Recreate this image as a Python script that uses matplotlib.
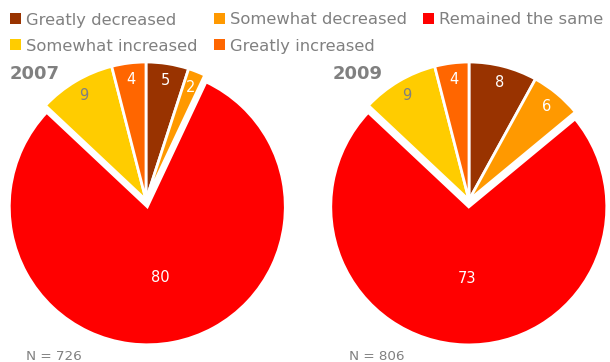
import numpy as np
import matplotlib.pyplot as plt
from matplotlib.patches import Patch

categories = ["Greatly decreased", "Somewhat decreased", "Remained the same",
              "Somewhat increased", "Greatly increased"]
colors = ["#993300", "#FF9900", "#FF0000", "#FFCC00", "#FF6600"]
label_colors = ["white", "white", "white", "#808080", "white"]
values_2007 = [5, 2, 80, 9, 4]
values_2009 = [8, 6, 73, 9, 4]
years = ["2007", "2009"]
n_counts = [726, 806]

fig = plt.figure(figsize=(6.1, 3.62), dpi=100)
W, H = 610, 362
gray = "#808080"


def draw_pie(cx, cy, values, year, n):
    size = 300
    ax = fig.add_axes([(cx - size / 2) / W, (H - cy - size / 2) / H, size / W, size / H])
    lim = size / 2 / 138
    explode = [0.05 if v == max(values) else 0 for v in values]
    wedges, _ = ax.pie(values, colors=colors, startangle=90, counterclock=False,
                       explode=explode,
                       wedgeprops=dict(edgecolor="white", linewidth=2))
    for w, v, lc in zip(wedges, values, label_colors):
        mid = np.deg2rad((w.theta1 + w.theta2) / 2)
        d = 0.52 if v == max(values) else 0.88
        x0, y0 = w.center
        ax.text(x0 + d * np.cos(mid), y0 + d * np.sin(mid), str(v),
                ha="center", va="center", color=lc, fontsize=10.5)
    ax.set_xlim(-lim, lim)
    ax.set_ylim(-lim, lim)
    ax.set_aspect("equal")
    ax.axis("off")
    fig.text((cx - 136) / W, 1 - 74 / H, year, fontsize=13, fontweight="bold",
             color=gray, va="center", ha="left")
    fig.text((cx - 120) / W, 1 - 357 / H, f"N = {n}", fontsize=9.7,
             color=gray, va="center", ha="left")


draw_pie(146, 200, values_2007, years[0], n_counts[0])
draw_pie(469, 200, values_2009, years[1], n_counts[1])

handles = [Patch(facecolor=c, edgecolor="none") for c in colors]
order = [0, 3, 1, 4, 2]
leg = fig.legend([handles[i] for i in order], [categories[i] for i in order],
                 ncol=3, loc="upper left", bbox_to_anchor=(10 / W, 1 - 12.5 / H),
                 frameon=False, fontsize=11.8, labelcolor=gray,
                 handlelength=0.67, handleheight=0.67, handletextpad=0.3,
                 columnspacing=1.0, borderaxespad=0, borderpad=0, labelspacing=0.68)

fig.savefig("out.png", dpi=100)
